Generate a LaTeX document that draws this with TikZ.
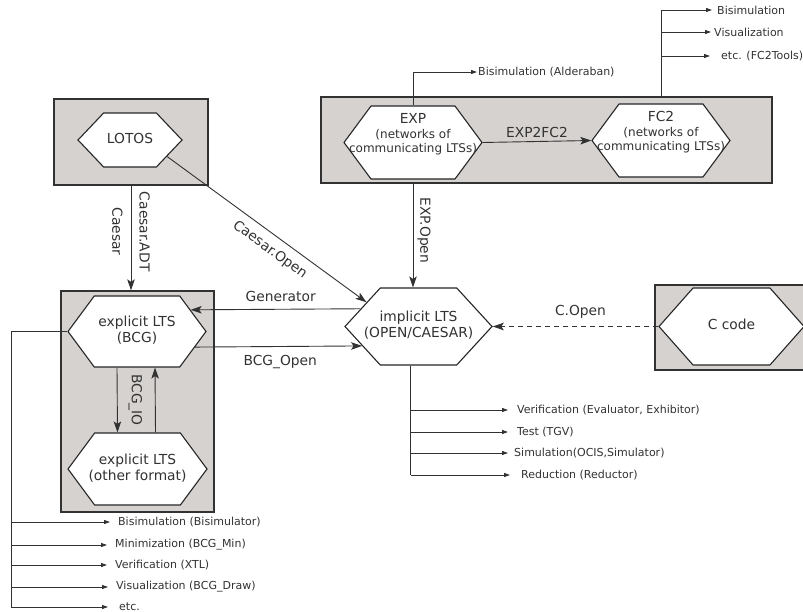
\documentclass[tikz,border=0pt]{standalone}
\usepackage{fontspec}
\setmainfont{DejaVu Sans}
\usetikzlibrary{shapes.symbols,arrows.meta}
\definecolor{boxgray}{RGB}{214,210,208}
\definecolor{ink}{RGB}{50,50,50}
\newcommand\hexfont{\fontsize{13.8}{16}\selectfont}
\newcommand\subfont{\fontsize{12}{14.5}\selectfont}
\newcommand\toolfont{\fontsize{11}{13}\selectfont}
\newcommand\hexlines[2][1]{\makebox[0pt]{\renewcommand\arraystretch{#1}\begin{tabular}{@{}c@{}}#2\end{tabular}}}
\tikzset{
    frame/.style={draw=ink, line width=1.3pt, fill=boxgray, inner sep=0pt},
    hex/.style={shape=signal, signal to=west and east, signal pointer angle=#1,
        draw=black!85, line width=1.1pt, fill=white, inner sep=1pt, font=\hexfont, text=ink},
    hex/.default=100,
    conn/.style={draw=ink, line width=0.9pt},
    arr/.style={conn, -{Stealth[length=11pt,width=7.5pt,inset=2.5pt]}},
    tip/.style={conn, -{Triangle[length=6pt,width=4pt]}},
    lbl/.style={font=\hexfont, text=ink, inner sep=#1},
    lbl/.default=8pt,
    tool/.style={anchor=west, inner xsep=#1, inner ysep=1pt, font=\toolfont, text=ink},
    tool/.default=8pt
}
\begin{document}
\begin{tikzpicture}[x=1pt, y=-1pt]
    \useasboundingbox (0,0) rectangle (803,612);
    \node[frame, minimum width=154pt, minimum height=86pt] (lotosbox) at (131,142) {};
    \node[frame, minimum width=451pt, minimum height=86pt] (expbox) at (546.5,140) {};
    \node[frame, minimum width=153pt, minimum height=221pt] (bcgbox) at (137.5,401.5) {};
    \node[frame, minimum width=151pt, minimum height=85pt] (cbox) at (730.5,327.5) {};
    \node[hex=93, minimum width=104pt, minimum height=54pt] (lotos) at (130,140) {\hexlines{LOTOS}};
    \node[hex=107, minimum width=138pt, minimum height=73pt] (exp) at (413,142.5)
        {\hexlines[0.9]{EXP\\\subfont(networks of\\\subfont communicating LTSs)\\~}};
    \node[hex=107, minimum width=138pt, minimum height=73pt] (fc2) at (661,140.5)
        {\hexlines[0.9]{FC2\\\subfont(networks of\\\subfont communicating LTSs)\\~}};
    \node[hex=95, minimum width=147pt, minimum height=77pt] (impl) at (418.5,326.5) {\hexlines{implicit LTS\\(OPEN/CAESAR)}};
    \node[hex=107, minimum width=138pt, minimum height=71pt] (bcg) at (137,331.5) {\hexlines{explicit LTS\\(BCG)}};
    \node[hex=107, minimum width=139pt, minimum height=72pt] (other) at (137.5,469) {\hexlines{explicit LTS\\(other format)}};
    \node[hex=97, minimum width=145pt, minimum height=77pt] (ccode) at (731.5,326.5) {\hexlines{C code}};
    \draw[arr] (lotosbox.south) -- (lotosbox.south |- bcgbox.north)
        node[lbl, pos=0.44, rotate=-90, anchor=south] {Caesar.ADT}
        node[lbl, pos=0.44, rotate=-90, anchor=north] {Caesar};
    \draw[arr] (lotos.-24) -- (impl.155)
        node[lbl, pos=0.56, sloped, below] {Caesar.Open};
    \draw[arr] (exp.east) -- (fc2.west)
        node[lbl=3pt, midway, above] {EXP2FC2};
    \draw[arr] (expbox.south -| exp.north) -- (exp.north |- impl.north)
        node[lbl=4pt, pos=0.45, rotate=-90, anchor=south] {EXP.Open};
    \draw[arr] (impl.163) -- (bcg.22)
        node[lbl=7pt, pos=0.47, above] {Generator};
    \draw[arr] (bcg.-15) -- (impl.-161)
        node[lbl, pos=0.51, below] {BCG\_Open};
    \draw[arr, dash pattern=on 5pt off 4pt] (ccode.west) -- (impl.east)
        node[lbl, pos=0.47, above] {C.Open};
    \draw[arr] ([xshift=-20pt]bcg.south) -- ([xshift=-20pt]other.north)
        node[lbl=11pt, midway, rotate=-90, anchor=south] {BCG\_IO};
    \draw[arr] ([xshift=18pt]other.north) -- ([xshift=18pt]bcg.south);
    \node[tool=1pt] (alderaban) at (477,72) {Bisimulation (Alderaban)};
    \draw[tip] (exp.north) |- (alderaban.west);
    \node[tool=5pt] (fcbisim) at (712,10) {Bisimulation};
    \node[tool=3pt] (fcvisual) at (711,32) {Visualization};
    \node[tool=11pt] (fcetc) at (710,56) {etc. (FC2Tools)};
    \draw[conn] (fc2 |- expbox.north) -- (fc2 |- fcbisim);
    \draw[tip] (fc2 |- fcbisim) -- (fcbisim.west);
    \draw[tip] (fc2 |- fcvisual) -- (fcvisual.west);
    \draw[tip] (fc2 |- fcetc) -- (fcetc.west);
    \coordinate (implbar) at ([xshift=-8pt]impl.south);
    \node[tool=9pt] (evaluator) at (508,410) {Verification (Evaluator, Exhibitor)};
    \node[tool=9pt] (tgv) at (508,432) {Test (TGV)};
    \node[tool=6pt] (ocis) at (508,453) {Simulation(OCIS,Simulator)};
    \node[tool=11pt] (reductor) at (510,475) {Reduction (Reductor)};
    \draw[conn] (implbar) -- (implbar |- reductor);
    \draw[tip] (implbar |- evaluator) -- (evaluator.west);
    \draw[tip] (implbar |- tgv) -- (tgv.west);
    \draw[tip] (implbar |- ocis) -- (ocis.west);
    \draw[tip] (implbar |- reductor) -- (reductor.west);
    \coordinate (bcgbar) at ([xshift=-56pt]bcg.west);
    \node[tool] (bisimulator) at (110,522) {Bisimulation (Bisimulator)};
    \node[tool] (bcgmin) at (107,545) {Minimization (BCG\_Min)};
    \node[tool] (xtl) at (107,565) {Verification (XTL)};
    \node[tool] (bcgdraw) at (108,587) {Visualization (BCG\_Draw)};
    \node[tool=11pt] (bcgetc) at (108,607) {etc.};
    \draw[conn] (bcg.west) -- (bcgbar) -- (bcgbar |- bcgetc);
    \draw[tip] (bcgbar |- bisimulator) -- (bisimulator.west);
    \draw[tip] (bcgbar |- bcgmin) -- (bcgmin.west);
    \draw[tip] (bcgbar |- xtl) -- (xtl.west);
    \draw[tip] (bcgbar |- bcgdraw) -- (bcgdraw.west);
    \draw[tip] (bcgbar |- bcgetc) -- (bcgetc.west);
\end{tikzpicture}
\end{document}
